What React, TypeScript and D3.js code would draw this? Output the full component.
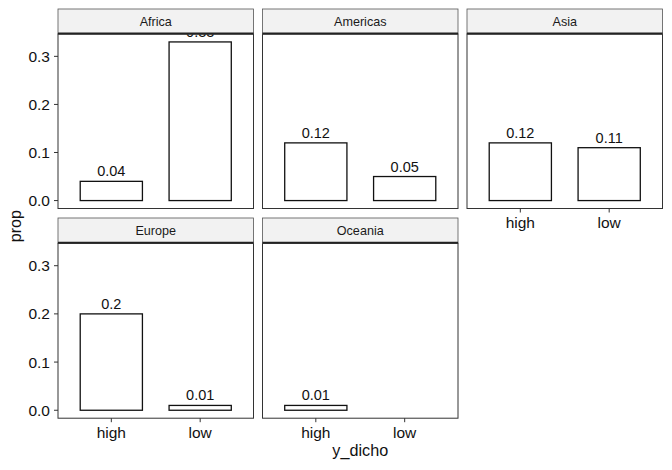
import * as d3 from "d3";

const continents = ["Africa", "Americas", "Asia", "Europe", "Oceania"];
const levels = ["high", "low"];
const highProp: (number | null)[] = [0.04, 0.12, 0.12, 0.2, 0.01];
const lowProp: (number | null)[] = [0.33, 0.05, 0.11, 0.01, null];
const yTicks = [0, 0.1, 0.2, 0.3];

const W = 672;
const H = 470;
const FONT = "'Liberation Sans', Arial, Helvetica, sans-serif";

const colLefts = [58, 262.5, 467];
const panelW = 195.5;
const rows = [
  { stripTop: 9, top: 34, bottom: 208.5 },
  { stripTop: 218, top: 243.3, bottom: 418.2 },
];
const NCOL = 3;

const yMax = 0.33;
const yPad = yMax * 0.05;
const fmtTick = d3.format(".1f");

export default function App() {
  const panels = continents.map((name, i) => {
    const col = i % NCOL;
    const row = Math.floor(i / NCOL);
    const below = i + NCOL < continents.length;
    return { name, i, col, row, showX: !below, showY: col === 0 };
  });

  return (
    <svg
      width={W}
      height={H}
      style={{ position: "absolute", left: 0, top: 0, background: "#fff" }}
      fontFamily={FONT}
    >
      {panels.map((p) => {
        const r = rows[p.row];
        const left = colLefts[p.col];
        const x = d3.scaleLinear().domain([0.4, 2.6]).range([left, left + panelW]);
        const y = d3
          .scaleLinear()
          .domain([-yPad, yMax + yPad])
          .range([r.bottom, r.top]);
        const vals = [highProp[p.i], lowProp[p.i]];
        return (
          <g key={p.name}>
            <rect x={left} y={r.top} width={panelW} height={r.bottom - r.top} fill="#fff" />
            {vals.map((v, k) =>
              v == null ? null : (
                <g key={k}>
                  <rect
                    x={x(k + 1 - 0.35)}
                    y={y(v)}
                    width={x(k + 1 + 0.35) - x(k + 1 - 0.35)}
                    height={y(0) - y(v)}
                    fill="#fff"
                    stroke="#111"
                    strokeWidth={1.3}
                  />
                  <text
                    x={x(k + 1)}
                    y={y(v) - 5}
                    textAnchor="middle"
                    fontSize={14.5}
                    fill="#111"
                  >
                    {String(v)}
                  </text>
                </g>
              )
            )}
            <rect
              x={left}
              y={r.top}
              width={panelW}
              height={r.bottom - r.top}
              fill="none"
              stroke="#333"
              strokeWidth={1}
            />
            {/* strip drawn on top of the panel, hiding overflowing labels */}
            <rect
              x={left}
              y={r.stripTop}
              width={panelW}
              height={r.top - r.stripTop}
              fill="#f2f2f2"
              stroke="#555"
              strokeWidth={0.8}
            />
            <line
              x1={left}
              x2={left + panelW}
              y1={r.top - 0.5}
              y2={r.top - 0.5}
              stroke="#222"
              strokeWidth={2}
            />
            <text
              x={left + panelW / 2}
              y={(r.stripTop + r.top) / 2}
              textAnchor="middle"
              dominantBaseline="central"
              fontSize={12.6}
              fill="#1a1a1a"
            >
              {p.name}
            </text>
            {p.showY &&
              yTicks.map((t) => (
                <g key={t}>
                  <line x1={left - 4} x2={left} y1={y(t)} y2={y(t)} stroke="#333" />
                  <text
                    x={left - 8}
                    y={y(t)}
                    textAnchor="end"
                    dominantBaseline="central"
                    fontSize={15.5}
                    fill="#111"
                  >
                    {fmtTick(t)}
                  </text>
                </g>
              ))}
            {p.showX &&
              levels.map((lv, k) => (
                <g key={lv}>
                  <line
                    x1={x(k + 1)}
                    x2={x(k + 1)}
                    y1={r.bottom}
                    y2={r.bottom + 4}
                    stroke="#333"
                  />
                  <text
                    x={x(k + 1)}
                    y={r.bottom + 19.5}
                    textAnchor="middle"
                    fontSize={15.5}
                    fill="#111"
                  >
                    {lv}
                  </text>
                </g>
              ))}
          </g>
        );
      })}
      <text
        x={(colLefts[0] + colLefts[2] + panelW) / 2}
        y={456}
        textAnchor="middle"
        fontSize={16.2}
        fill="#111"
      >
        y_dicho
      </text>
      <text
        transform={`translate(21, ${(rows[0].top + rows[1].bottom) / 2}) rotate(-90)`}
        textAnchor="middle"
        fontSize={16.2}
        fill="#111"
      >
        prop
      </text>
    </svg>
  );
}
